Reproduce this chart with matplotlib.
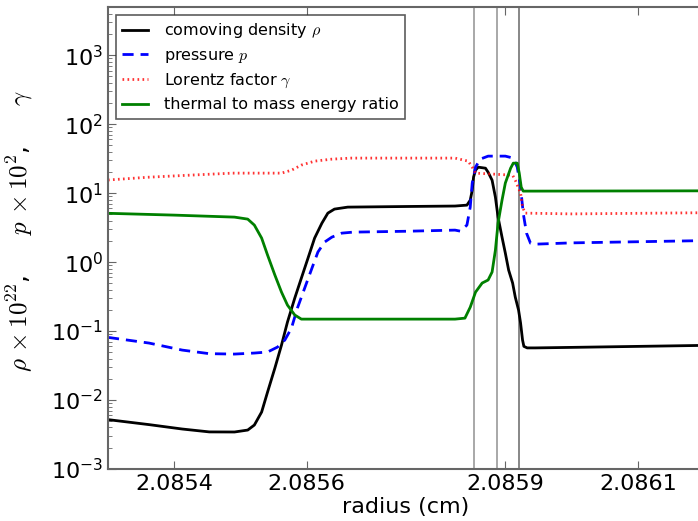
import matplotlib
matplotlib.use("Agg")
import matplotlib.pyplot as plt

plt.rcParams['mathtext.fontset'] = 'cm'
plt.rcParams['font.family'] = ['DejaVu Sans']

# comoving density rho (x1e22)
rho_x = [2.0853, 2.085362, 2.085412, 2.085453, 2.085491, 2.085511, 2.085521, 2.085532,
         2.085541, 2.085552, 2.085562, 2.085571, 2.085582, 2.085592, 2.085602, 2.085612,
         2.085623, 2.085632, 2.085642, 2.085662, 2.08575, 2.085824, 2.085842, 2.085847,
         2.08585, 2.085852, 2.085855, 2.085859, 2.08587, 2.085874, 2.08588, 2.085885,
         2.085889, 2.085895, 2.0859, 2.085905, 2.085911, 2.085915, 2.08592, 2.085923,
         2.085926, 2.085928, 2.085933, 2.085945, 2.086, 2.0862]
rho_y = [5.2e-3, 4.4e-3, 3.8e-3, 3.45e-3, 3.44e-3, 3.67e-3, 4.34e-3, 6.7e-3,
         0.0131, 0.0291, 0.0627, 0.135, 0.30, 0.586, 1.14, 2.23,
         3.67, 5.13, 5.87, 6.27, 6.4, 6.5, 6.7, 7.9,
         11.0, 17.1, 21.5, 23.8, 23.0, 20.1, 15.4, 8.75,
         4.49, 2.30, 1.35, 0.765, 0.497, 0.311, 0.201, 0.131,
         0.0741, 0.06, 0.057, 0.057, 0.058, 0.062]

# pressure p (x1e2)
p_x = [2.0853, 2.085362, 2.085412, 2.085453, 2.085491, 2.085521, 2.085541, 2.085556,
       2.085567, 2.085577, 2.085586, 2.085597, 2.085608, 2.085617, 2.085627, 2.085638,
       2.085653, 2.08567, 2.08575, 2.085824, 2.085832, 2.085842, 2.085847, 2.08585,
       2.085855, 2.085862, 2.085874, 2.0859, 2.085912, 2.085918, 2.085923, 2.085927,
       2.085932, 2.085938, 2.085945, 2.086, 2.0862]
p_y = [0.081, 0.067, 0.053, 0.047, 0.0464, 0.048, 0.0497, 0.0586,
       0.0741, 0.11, 0.215, 0.42, 0.818, 1.40, 1.95, 2.30,
       2.63, 2.72, 2.8, 2.91, 2.81, 3.44, 6.27, 14.0,
       23.8, 31.1, 34.4, 34.4, 32.2, 23.8, 12.2, 5.13,
       2.63, 1.88, 1.82, 1.9, 2.05]

# Lorentz factor gamma
g_x = [2.0853, 2.08536, 2.085412, 2.085488, 2.085562, 2.085577, 2.085592, 2.085612,
       2.085638, 2.085667, 2.085824, 2.085844, 2.08585, 2.085855, 2.085911, 2.085915,
       2.085923, 2.085926, 2.08593, 2.086, 2.0862]
g_y = [15.5, 17, 18, 19.5, 19.5, 21.5, 25.5, 29.1,
       31.1, 32.2, 32.2, 29.1, 23.8, 19.5, 18.2, 15.4,
       10.0, 6.27, 5.13, 5.0, 5.2]

# thermal to mass energy ratio
t_x = [2.0853, 2.0854, 2.085491, 2.085511, 2.085521, 2.085532, 2.085541, 2.085552,
       2.085562, 2.085571, 2.085582, 2.085592, 2.085612, 2.085824, 2.085839, 2.085847,
       2.085855, 2.085865, 2.085874, 2.08588, 2.085885, 2.085889, 2.085895, 2.0859,
       2.085908, 2.085912, 2.085918, 2.085921, 2.085924, 2.085927, 2.085945, 2.0862]
t_y = [5.1, 4.8, 4.49, 4.2, 3.44, 2.23, 1.26, 0.648,
       0.367, 0.238, 0.171, 0.149, 0.149, 0.149, 0.154, 0.222,
       0.367, 0.497, 0.55, 0.718, 1.49, 3.67, 7.9, 14.0,
       23.0, 27.2, 27.2, 19.5, 12.2, 10.7, 10.7, 10.8]

vlines_x = [2.085852, 2.085888, 2.085921]
xticks = [2.0854, 2.0856, 2.0859, 2.0861]
xtick_labels = ['2.0854', '2.0856', '2.0859', '2.0861']

fig = plt.figure(figsize=(6.98, 5.21), dpi=100)
ax = fig.add_axes([108/698, 52/521, 596/698, 462/521])

for i, xv in enumerate(vlines_x):
    ax.axvline(xv, color='0.6' if i < 2 else '0.45', lw=1.2, zorder=1)

ax.plot(rho_x, rho_y, color='black', lw=2, label=r'comoving density $\rho$')
ax.plot(p_x, p_y, color='blue', lw=2, ls=(0, (4, 2.5)), label=r'pressure $p$')
ax.plot(g_x, g_y, color='red', lw=2, ls=(0, (0.6, 1.2)), alpha=0.8, label=r'Lorentz factor $\gamma$')
ax.plot(t_x, t_y, color='green', lw=2, label='thermal to mass energy ratio')

ax.set_yscale('log')
ax.set_ylim(1e-3, 5e3)
ax.set_xlim(2.0853, 2.0862)
ax.set_xticks(xticks)
ax.set_xticklabels(xtick_labels)
ax.tick_params(which='both', direction='in', top=True, right=False, labelsize=16, color='0.4')
ax.tick_params(which='major', length=6)
ax.tick_params(which='minor', length=3)
for s in ax.spines.values():
    s.set_color('0.4')
    s.set_linewidth(1.5)

ax.set_xlabel('radius (cm)', fontsize=16, labelpad=2)
ax.set_ylabel(r'$\rho\,\times 10^{22}$,     $p\,\times 10^{2}$,     $\gamma$', fontsize=18)
ax.yaxis.set_label_coords(-0.122, 0.515)

leg = ax.legend(loc='upper left', fontsize=11.5, handlelength=1.6, handletextpad=1.0,
                fancybox=False, borderaxespad=0.5, labelspacing=0.45)
leg.get_frame().set_edgecolor('0.2')
leg.get_frame().set_linewidth(1.2)

fig.savefig('out.png', dpi=100)
